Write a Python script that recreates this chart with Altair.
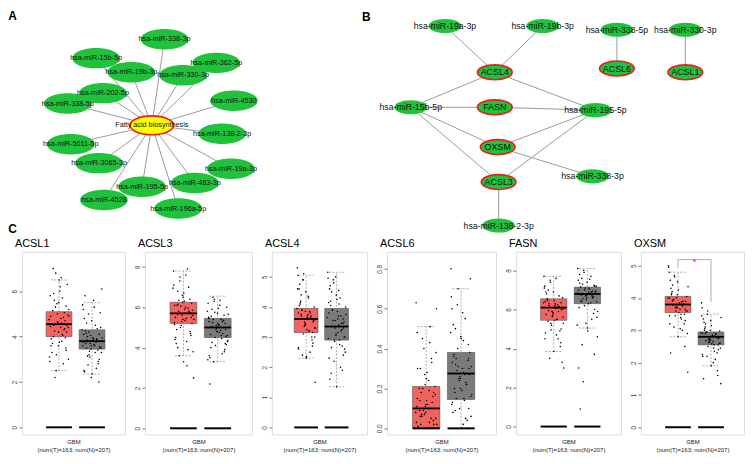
import altair as alt
import pandas as pd

FONT = "Liberation Sans"
GREEN = "#20c23c"
RED = "#ee1d1d"
YELLOW = "#ffff00"
EDGE = "#9b9b9b"
BOX_T = "#f4625f"
BOX_N = "#7b7b7b"
ELLIPSE = "M -1 0 A 1 0.43 0 1 1 1 0 A 1 0.43 0 1 1 -1 0 Z"

# ---------------- Panel A : pathway - miRNA network (layout coordinates) ----------------
a_mirnas = ["hsa-miR-338-3p", "hsa-miR-15b-5p", "hsa-miR-362-5p", "hsa-miR-19b-3p",
            "hsa-miR-330-3p", "hsa-miR-202-5p", "hsa-miR-338-5p", "hsa-miR-4530",
            "hsa-miR-138-2-3p", "hsa-miR-5011-5p", "hsa-miR-3065-3p", "hsa-miR-19a-3p",
            "hsa-miR-483-3p", "hsa-miR-195-5p", "hsa-miR-4528", "hsa-miR-196a-5p"]
a_x = [164, 94, 217, 130, 183, 101, 65, 235, 223, 68, 97, 232, 195, 141, 102, 178]
a_y = [32, 52, 57, 67, 70, 89, 100, 97, 132, 143, 163, 169, 184, 188, 202, 211]
hub_name = ["Fatty acid biosynthesis"]
hub_x = [151]
hub_y = [123]

# ---------------- Panel B : gene - miRNA network ----------------
b_mirnas = ["hsa-miR-19a-3p", "hsa-miR-19b-3p", "hsa-miR-338-5p", "hsa-miR-330-3p",
            "hsa-miR-15b-5p", "hsa-miR-195-5p", "hsa-miR-338-3p", "hsa-miR-138-2-3p"]
b_mirna_x = [451, 551, 627, 697, 416, 605, 602, 506]
b_mirna_y = [18, 18, 22, 22, 104, 107, 177, 229]
b_genes = ["ACSL4", "ACSL6", "ACSL1", "FASN", "OXSM", "ACSL3"]
b_gene_x = [502, 627, 697, 502, 505, 506]
b_gene_y = [67, 63, 67, 104, 146, 183]
b_edges = [("hsa-miR-19a-3p", "ACSL4"), ("hsa-miR-19b-3p", "ACSL4"),
           ("hsa-miR-15b-5p", "ACSL4"), ("ACSL4", "hsa-miR-195-5p"),
           ("hsa-miR-15b-5p", "FASN"), ("FASN", "hsa-miR-195-5p"),
           ("hsa-miR-15b-5p", "OXSM"), ("OXSM", "hsa-miR-195-5p"),
           ("OXSM", "hsa-miR-338-3p"), ("hsa-miR-15b-5p", "ACSL3"),
           ("ACSL3", "hsa-miR-195-5p"), ("ACSL3", "hsa-miR-138-2-3p"),
           ("hsa-miR-338-5p", "ACSL6"), ("hsa-miR-330-3p", "ACSL1")]
letters = ["A", "B"]
letter_x = [4, 366]
letter_y = [2, 3]
letter_c = ["C"]
letter_c_x = [4]
letter_c_y = [240]

# ---------------- Panel C : expression boxplots (GBM, T vs N) ----------------
genes = ["ACSL1", "ACSL3", "ACSL4", "ACSL6", "FASN", "OXSM"]
# [lower whisker, Q1, median, Q3, upper whisker]
box_T = {"ACSL1": [2.5, 4.0, 4.55, 5.1, 6.5], "ACSL3": [3.6, 5.2, 5.7, 6.25, 7.8],
         "ACSL4": [2.3, 3.15, 3.6, 3.95, 5.05], "ACSL6": [0.0, 0.0, 0.1, 0.21, 0.51],
         "FASN": [3.85, 5.45, 6.1, 6.55, 7.7], "OXSM": [2.8, 3.55, 3.8, 4.05, 4.8]}
box_N = {"ACSL1": [2.35, 3.45, 3.8, 4.3, 5.5], "ACSL3": [3.3, 4.5, 5.0, 5.45, 6.55],
         "ACSL4": [1.35, 2.9, 3.35, 3.95, 5.15], "ACSL6": [0.0, 0.145, 0.275, 0.38, 0.70],
         "FASN": [5.05, 6.3, 6.8, 7.15, 8.1], "OXSM": [1.9, 2.55, 2.8, 2.95, 3.5]}
pts_T = {
    "ACSL1": [4.6, 5.9, 3.4, 4.2, 4.9, 2.8, 5.3, 4.4, 6.2, 3.7, 4.7, 5.0, 3.1, 4.1, 5.6, 4.5, 6.5, 3.9,
              4.3, 2.5, 5.2, 4.8, 7.0, 3.5, 4.6, 5.8, 4.05, 2.2, 4.95, 6.0, 3.3, 4.35, 5.45, 4.75, 3.8, 4.5,
              4.2, 5.5, 3.6, 4.85, 6.8, 3.0, 4.4, 5.15, 3.95, 4.65, 2.9, 5.7, 4.25, 6.3, 3.75, 4.55, 5.05,
              3.2, 4.9, 6.6, 4.0, 5.35, 3.6, 4.45],
    "ACSL3": [5.7, 6.8, 4.6, 5.4, 6.1, 3.9, 7.3, 5.6, 5.9, 4.9, 6.4, 5.3, 7.8, 4.3, 5.8, 6.2, 3.3, 5.5,
              7.0, 5.0, 2.5, 6.0, 5.65, 4.7, 6.6, 5.25, 7.9, 3.6, 5.85, 6.3, 4.2, 5.75, 5.1, 6.95, 5.45, 6.15,
              5.5, 6.5, 4.4, 5.95, 7.5, 3.8, 5.35, 6.1, 4.8, 5.6, 7.1, 3.1, 6.35, 5.2, 6.7, 4.5, 5.8, 6.05,
              5.4, 7.6, 4.0, 5.7, 6.25, 5.15],
    "ACSL4": [3.6, 4.4, 2.8, 3.4, 3.8, 2.5, 4.9, 3.3, 3.7, 4.1, 3.0, 3.5, 5.3, 3.2, 3.9, 3.55, 2.3, 4.6,
              3.65, 3.1, 1.5, 3.75, 4.2, 2.7, 3.45, 5.05, 3.85, 2.4, 4.0, 3.25, 4.75, 3.6, 3.35, 3.95, 4.3, 3.7,
              3.5, 4.5, 2.6, 3.8, 4.9, 3.0, 3.65, 4.15, 2.9, 3.4, 4.6, 3.2, 3.9, 3.55, 2.35, 4.05, 3.7, 5.1,
              3.3, 4.35, 3.75, 3.15, 3.85, 2.65],
    "ACSL6": [0.1, 0.3, 0.02, 0.08, 0.15, 0.0, 0.45, 0.05, 0.12, 0.2, 0.0, 0.07, 0.63, 0.03, 0.18, 0.1,
              0.25, 0.01, 0.35, 0.09, 0.6, 0.0, 0.14, 0.04, 0.22, 0.11, 0.51, 0.06, 0.17, 0.28, 0.0, 0.13,
              0.4, 0.08, 0.19, 0.02, 0.0, 0.12, 0.3, 0.05, 0.2, 0.38, 0.0, 0.09, 0.16, 0.27, 0.03, 0.43,
              0.07, 0.21, 0.14, 0.0, 0.33, 0.1, 0.02, 0.24, 0.06, 0.18, 0.11, 0.48],
    "FASN": [6.1, 7.0, 5.0, 5.8, 6.4, 4.5, 7.5, 5.6, 6.2, 6.5, 4.9, 5.9, 7.7, 5.5, 6.3, 6.0, 3.85, 6.9,
             6.15, 5.3, 3.0, 6.05, 6.45, 4.3, 5.7, 7.2, 6.25, 3.5, 6.6, 5.45, 6.8, 6.1, 5.2, 6.35, 4.7, 5.95,
             6.0, 6.9, 4.8, 5.9, 7.4, 5.3, 6.3, 6.55, 4.1, 5.65, 7.1, 5.5, 6.2, 3.3, 6.45, 5.75, 6.7, 4.95,
             6.05, 7.6, 5.4, 6.35, 5.85, 4.5],
    "OXSM": [3.8, 4.4, 3.3, 3.7, 4.0, 3.0, 4.7, 3.6, 3.85, 4.1, 3.2, 3.75, 5.0, 3.5, 3.95, 3.8, 2.8, 4.55,
             3.9, 3.45, 1.7, 3.65, 4.2, 2.5, 3.7, 4.8, 3.88, 3.1, 4.05, 3.55, 4.3, 3.82, 3.6, 4.0, 3.4, 3.78,
             3.9, 4.5, 3.2, 3.75, 4.65, 2.9, 3.85, 4.15, 3.5, 4.0, 4.95, 3.35, 3.95, 3.6, 4.25, 2.3, 3.8,
             3.7, 4.35, 3.05, 3.9, 3.65, 4.1, 3.45],
}
pts_N = {
    "ACSL1": [3.8, 4.6, 3.0, 3.6, 4.1, 2.6, 5.0, 3.5, 3.9, 4.25, 2.9, 3.7, 5.4, 3.3, 4.0, 3.55, 2.35, 4.8,
              3.85, 3.2, 6.1, 3.65, 4.15, 2.0, 3.45, 5.2, 3.75, 2.75, 4.4, 3.95, 5.8, 3.4, 3.1, 4.3, 3.6, 3.85,
              3.5, 4.7, 2.5, 3.9, 4.2, 3.3, 5.6, 3.7, 2.8, 4.05, 3.6, 4.5, 3.15, 5.05, 3.8, 2.45, 4.35,
              3.35, 3.95, 5.3, 3.5, 4.1, 2.2, 3.75],
    "ACSL3": [5.0, 5.9, 4.2, 4.8, 5.3, 3.7, 6.3, 4.6, 5.1, 4.0, 5.6, 4.9, 3.4, 5.4, 6.5, 4.55, 5.2, 2.2,
              4.7, 5.75, 4.35, 6.1, 5.05, 3.9, 4.95, 5.5, 4.45, 3.3, 6.0, 5.15, 4.65, 5.35, 4.1, 5.8, 4.85, 5.25,
              4.9, 5.7, 3.6, 5.3, 6.4, 4.3, 4.75, 5.55, 3.8, 5.1, 6.2, 4.6, 5.4, 4.15, 5.95, 3.5, 5.0, 4.5,
              5.65, 6.35, 4.25, 5.2, 4.8, 5.45],
    "ACSL4": [3.4, 4.5, 2.4, 3.1, 3.8, 2.0, 4.9, 3.0, 3.6, 4.2, 2.7, 3.3, 5.15, 2.9, 3.9, 3.5, 1.35, 4.6,
              3.2, 2.2, 4.0, 3.7, 1.8, 3.45, 5.0, 2.95, 4.3, 3.55, 2.6, 3.85, 4.7, 3.25, 2.85, 3.65, 4.1, 3.35,
              3.3, 4.4, 2.3, 3.7, 4.8, 2.5, 3.15, 4.05, 1.9, 3.55, 4.95, 2.75, 3.9, 3.0, 4.25, 1.6, 3.45,
              2.9, 3.75, 4.55, 2.65, 3.6, 3.05, 4.15],
    "ACSL6": [0.28, 0.5, 0.1, 0.2, 0.33, 0.05, 0.62, 0.16, 0.3, 0.37, 0.0, 0.24, 0.8, 0.14, 0.35, 0.27,
              0.45, 0.08, 0.22, 0.7, 0.31, 0.02, 0.18, 0.42, 0.26, 0.12, 0.55, 0.29, 0.75, 0.19, 0.36, 0.04,
              0.25, 0.48, 0.15, 0.32, 0.3, 0.46, 0.13, 0.23, 0.4, 0.06, 0.58, 0.2, 0.34, 0.1, 0.66, 0.27,
              0.15, 0.38, 0.0, 0.52, 0.22, 0.31, 0.17, 0.44, 0.09, 0.35, 0.25, 0.6],
    "FASN": [6.8, 7.6, 6.0, 6.6, 7.0, 5.5, 8.0, 6.4, 6.9, 7.15, 5.8, 6.7, 8.1, 6.35, 7.3, 6.85, 5.05, 7.8,
             6.95, 6.2, 4.6, 7.05, 6.75, 3.7, 6.5, 7.5, 6.9, 2.3, 7.2, 6.3, 0.9, 6.65, 7.1, 5.2, 6.8, 4.2,
             6.9, 7.4, 6.1, 6.7, 7.9, 5.6, 7.1, 6.45, 7.25, 5.3, 6.85, 7.7, 6.55, 6.95, 4.9, 7.35, 6.6,
             7.0, 5.9, 7.55, 6.4, 7.2, 6.75, 3.0],
    "OXSM": [2.8, 3.2, 2.4, 2.7, 2.9, 2.1, 3.5, 2.6, 2.85, 3.0, 2.3, 2.75, 3.85, 2.55, 2.95, 2.8, 1.9, 3.35,
             2.88, 2.5, 1.35, 2.65, 3.1, 1.6, 2.72, 3.7, 2.82, 2.2, 2.98, 2.58, 3.25, 2.78, 2.62, 2.92, 2.45, 2.68,
             2.75, 3.3, 2.2, 2.9, 3.6, 2.45, 2.85, 3.05, 1.75, 2.65, 3.45, 2.35, 2.95, 2.6, 3.15, 1.5, 2.8,
             2.7, 3.4, 2.0, 2.9, 2.55, 3.0, 2.25],
}
y_domain = {"ACSL1": [-0.31, 7.74], "ACSL3": [-0.3, 8.75], "ACSL4": [-0.23, 5.83],
            "ACSL6": [-0.03, 0.885], "FASN": [-0.4, 8.96], "OXSM": [-0.22, 5.43]}
y_ticks = {"ACSL1": [0, 2, 4, 6], "ACSL3": [0, 2, 4, 6, 8], "ACSL4": [0, 1, 2, 3, 4, 5],
           "ACSL6": [0, 0.2, 0.4, 0.6, 0.8], "FASN": [0, 2, 4, 6, 8], "OXSM": [0, 1, 2, 3, 4, 5]}
y_format = {"ACSL6": ".1f"}
panel_w = {"ACSL1": 104, "ACSL3": 108, "ACSL4": 96, "ACSL6": 110, "FASN": 106, "OXSM": 104}
x_label = ["GBM", "(num(T)=163; num(N)=207)"]
sig_gene = "OXSM"
sig_x = [1, 1, 2, 2]
sig_y = [4.92, 5.19, 5.19, 3.88]
sig_mark = "*"

# ======================= top row: networks =======================
nodeA = pd.DataFrame({"name": a_mirnas, "x": a_x, "y": a_y})
hub = pd.DataFrame({"name": hub_name, "x": hub_x, "y": hub_y})
nodeBm = pd.DataFrame({"name": b_mirnas, "x": b_mirna_x, "y": b_mirna_y})
nodeBg = pd.DataFrame({"name": b_genes, "x": b_gene_x, "y": b_gene_y})
posB = {n: (x, y) for n, x, y in zip(b_mirnas + b_genes, b_mirna_x + b_gene_x, b_mirna_y + b_gene_y)}
edge_rows = [{"x": x, "y": y, "x2": hub_x[0], "y2": hub_y[0]} for x, y in zip(a_x, a_y)]
edge_rows += [{"x": posB[s][0], "y": posB[s][1], "x2": posB[t][0], "y2": posB[t][1]} for s, t in b_edges]
edges = pd.DataFrame(edge_rows)
lett = pd.DataFrame({"name": letters, "x": letter_x, "y": letter_y})
lettc = pd.DataFrame({"name": letter_c, "x": letter_c_x, "y": letter_c_y})

xs_top = alt.Scale(domain=[18, 751], nice=False, zero=False)
ys_top = alt.Scale(domain=[3, 240], nice=False, zero=False, reverse=True)
X = alt.X("x:Q", scale=xs_top, axis=None)
Y = alt.Y("y:Q", scale=ys_top, axis=None)

top = alt.layer(
    alt.Chart(edges).mark_rule(color=EDGE, strokeWidth=1).encode(x=X, y=Y, x2="x2:Q", y2="y2:Q"),
    alt.Chart(nodeA).mark_point(shape=ELLIPSE, filled=True, fill=GREEN, opacity=1, size=48 * 48,
                                strokeWidth=0).encode(x=X, y=Y),
    alt.Chart(hub).mark_point(shape=ELLIPSE, filled=True, fill=YELLOW, stroke=RED, strokeWidth=1.6,
                              opacity=1, size=44 * 44).encode(x=X, y=Y),
    alt.Chart(nodeBm).mark_point(shape=ELLIPSE, filled=True, fill=GREEN, opacity=1, size=33 * 33,
                                 strokeWidth=0).encode(x=X, y=Y),
    alt.Chart(nodeBg).mark_point(shape=ELLIPSE, filled=True, fill=GREEN, stroke=RED, strokeWidth=1.6,
                                 opacity=1, size=35 * 35).encode(x=X, y=Y),
    alt.Chart(nodeA).mark_text(fontSize=7.3, font=FONT, color="#111").encode(x=X, y=Y, text="name:N"),
    alt.Chart(hub).mark_text(fontSize=7.3, font=FONT, color="#111").encode(x=X, y=Y, text="name:N"),
    alt.Chart(nodeBm).mark_text(fontSize=8.8, font=FONT, color="#111").encode(x=X, y=Y, text="name:N"),
    alt.Chart(nodeBg).mark_text(fontSize=9, font=FONT, color="#111").encode(x=X, y=Y, text="name:N"),
    alt.Chart(lett).mark_text(fontSize=12, font=FONT, fontWeight="bold", color="black", align="left",
                              baseline="top").encode(x=X, y=Y, text="name:N"),
    alt.Chart(lettc).mark_text(fontSize=12, font=FONT, fontWeight="bold", color="black", align="left",
                               baseline="bottom").encode(x=X, y=Y, text="name:N"),
).properties(width=722, height=226, view=alt.ViewBackground(strokeOpacity=0))

# ======================= bottom row: boxplots =======================
xs = alt.Scale(domain=[-0.125, 3.0], nice=False, zero=False)
xaxis = alt.Axis(title=x_label, labels=False, ticks=False, domain=False, grid=False,
                 titleFontSize=6, titleFontWeight="normal", titleFont=FONT, titleColor="#222",
                 titlePadding=4, titleLineHeight=8)


def panel(g):
    lo, q1, md, q3, hi = zip(box_T[g], box_N[g])
    st = pd.DataFrame({"group": ["T", "N"], "low": lo, "q1": q1, "med": md, "q3": q3, "high": hi})
    pts = pd.DataFrame({"group": ["T"] * len(pts_T[g]) + ["N"] * len(pts_N[g]),
                        "v": pts_T[g] + pts_N[g]})
    ys = alt.Scale(domain=y_domain[g], nice=False, zero=False)
    ax_kw = dict(values=y_ticks[g], labelAngle=-90, labelAlign="center", labelBaseline="bottom",
                 labelFontSize=6.5, labelColor="#444", labelFont=FONT, tickSize=3, tickColor="#777",
                 domain=False, grid=False, title=None, labelPadding=1)
    if g in y_format:
        ax_kw["format"] = y_format[g]
    yaxis = alt.Axis(**ax_kw)

    def XQ(f):
        return alt.X(f, type="quantitative", scale=xs, axis=xaxis)

    def YQ(f):
        return alt.Y(f, type="quantitative", scale=ys, axis=yaxis)

    base = alt.Chart(st).transform_calculate(
        pos="indexof(['T','N'], datum.group) + 1",
    ).transform_calculate(
        xa="datum.pos - 0.39", xb="datum.pos + 0.39",
        ca="datum.pos - 0.25", cb="datum.pos + 0.25", zero="0",
    )
    pbase = alt.Chart(pts).transform_calculate(
        pos="indexof(['T','N'], datum.group) + 1"
    ).transform_window(
        idx="row_number()", groupby=["group"]
    ).transform_calculate(
        jx="datum.pos + ((datum.idx * 0.618034) % 1 - 0.5) * 0.62"
    )
    dash = [2, 1.5]
    layers = [
        base.mark_rule(color="#9a9a9a", strokeWidth=0.8, strokeDash=dash).encode(
            x=XQ("pos"), y=YQ("low"), y2="high:Q"),
        base.mark_rect(stroke="#505050", strokeWidth=0.6).encode(
            x=XQ("xa"), x2="xb:Q", y=YQ("q1"), y2="q3:Q",
            color=alt.Color("group:N", scale=alt.Scale(domain=["T", "N"], range=[BOX_T, BOX_N]),
                            legend=None)),
        base.mark_rule(color="#9a9a9a", strokeWidth=0.8, strokeDash=dash).encode(
            x=XQ("ca"), x2="cb:Q", y=YQ("low")),
        base.mark_rule(color="#9a9a9a", strokeWidth=0.8, strokeDash=dash).encode(
            x=XQ("ca"), x2="cb:Q", y=YQ("high")),
        pbase.mark_circle(size=2.5, color="black", opacity=1).encode(x=XQ("jx"), y=YQ("v")),
        base.mark_rule(color="black", strokeWidth=1.8).encode(x=XQ("xa"), x2="xb:Q", y=YQ("med")),
        base.mark_rule(color="black", strokeWidth=2).encode(x=XQ("xa"), x2="xb:Q", y=YQ("zero")),
    ]
    if g == sig_gene:
        sg = pd.DataFrame({"sx": sig_x, "sy": sig_y, "o": list(range(len(sig_x)))})
        layers.append(alt.Chart(sg).mark_line(color="#9a9a9a", strokeWidth=0.8).encode(
            x=XQ("sx"), y=YQ("sy"), order="o:Q"))
        st2 = pd.DataFrame({"t": [sig_mark], "sx": [sum(sig_x) / len(sig_x)], "sy": [max(sig_y)]})
        layers.append(alt.Chart(st2).mark_text(color="#ee2222", fontSize=9, font=FONT,
                                               baseline="middle", dy=2).encode(
            x=XQ("sx"), y=YQ("sy"), text="t:N"))
    return alt.layer(*layers).properties(
        width=panel_w[g], height=184,
        title=alt.TitleParams(text=g, anchor="start", fontSize=11, fontWeight="normal", font=FONT,
                              color="black", offset=3, dx=3),
    )


bottom = alt.hconcat(*[panel(g) for g in genes], spacing=8)

chart = alt.vconcat(top, bottom, spacing=1).properties(
    padding=0, background="white"
).configure_view(stroke="#8d8d8d", strokeWidth=1).configure(font=FONT)

chart.save("out.html", embed_options={"renderer": "svg", "actions": False})
